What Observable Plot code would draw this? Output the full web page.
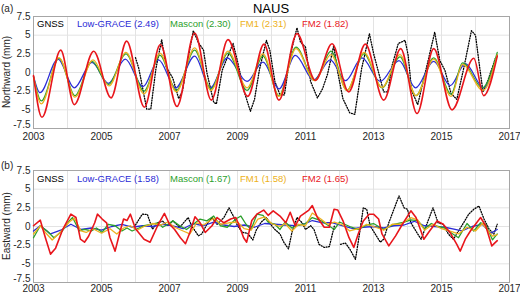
<!DOCTYPE html>
<html><head><meta charset="utf-8">
<script src="https://cdn.jsdelivr.net/npm/d3@7"></script>
<script src="https://cdn.jsdelivr.net/npm/@observablehq/plot@0.6"></script>
<style>
body{margin:0;background:#fff;font-family:"Liberation Sans",Arial,sans-serif;}
#wrap{position:relative;width:520px;height:296px;overflow:hidden;}
#wrap svg{position:absolute;left:0;}
.t{position:absolute;white-space:nowrap;line-height:1;transform:translateY(-50%);}
</style></head><body>
<div id="wrap"></div>
<script>
// ---- axes ----
const gridYears = [2003,2004,2005,2006,2007,2008,2009,2010,2011,2012,2013,2014,2015,2016,2017];
const xTickYears = [2003,2005,2007,2009,2011,2013,2015,2017];
const yTicks = [-7.5,-5,-2.5,0,2.5,5,7.5];
const yTickLabels = ["-7.5","-5","-2.5","0","2.5","5","7.5"];
const seriesNames = ["GNSS","Low-GRACE","Mascon","FM1","FM2"];
const northRms = ["","(2.49)","(2.30)","(2.31)","(1.82)"];
const eastRms = ["","(1.58)","(1.67)","(1.58)","(1.65)"];

// ---- panel (a) Northward [decimal year, mm] ----
const northGNSS = [[2006.0,2.0],[2006.1,0.5],[2006.33,-4.9],[2006.45,-4.9],[2006.6,0.5],[2006.77,4.4],[2006.9,0.8],[2007.1,-0.8],[2007.27,-3.5],[2007.38,-2.5],[2007.55,2.0],[2007.7,5.6],[2007.85,4.0],[2008.0,3.0],[2008.1,0.0],[2008.3,-4.0],[2008.38,-4.2],[2008.55,0.3],[2008.7,2.0],[2008.87,3.9],[2009.0,1.5],[2009.2,-2.6],[2009.38,-5.2],[2009.5,-3.6],[2009.65,0.5],[2009.85,4.3],[2009.95,3.0],[2010.1,-1.2],[2010.25,-3.0],[2010.38,-3.0],[2010.55,2.3],[2010.75,6.0],[2010.85,4.1],[2011.0,3.4],[2011.15,-1.2],[2011.35,-3.4],[2011.5,-2.2],[2011.65,-0.2],[2011.83,3.6],[2011.95,0.0],[2012.1,-3.5],[2012.3,-5.4],[2012.45,-5.6],[2012.65,0.5],[2012.88,5.2],[2013.0,2.6],[2013.15,0.0],[2013.3,-2.6],[2013.42,-2.6],[2013.55,1.0],[2013.73,3.9],[2013.93,4.3],[2014.02,2.3],[2014.12,-2.4],[2014.3,-4.3],[2014.55,0.5],[2014.8,5.4],[2014.95,1.6],[2015.1,0.3],[2015.28,-2.8],[2015.45,-3.6],[2015.65,0.5],[2015.88,5.6],[2016.0,5.0],[2016.12,0.8],[2016.22,-2.6],[2016.37,-1.0],[2016.6,2.1]];
const northLowGrace = [[2003.0,-0.5],[2003.19,-2.7],[2003.72,1.8],[2004.2,-2.05],[2004.72,1.35],[2005.2,-1.45],[2005.7,1.8],[2006.22,-1.9],[2006.68,1.7],[2007.18,-2.05],[2007.74,2.2],[2008.2,-2.05],[2008.7,1.95],[2009.28,-1.2],[2009.75,1.4],[2010.22,-2.2],[2010.7,2.3],[2011.24,-1.0],[2011.73,1.7],[2012.18,-1.1],[2012.66,1.95],[2013.2,-1.2],[2013.75,1.6],[2014.24,-2.05],[2014.77,1.5],[2015.26,-1.75],[2015.7,1.2],[2016.24,-2.05],[2016.64,2.4]];
const northMascon = [[2003.0,-0.6],[2003.23,-3.8],[2003.75,1.9],[2004.22,-3.1],[2004.72,1.5],[2005.2,-1.6],[2005.72,2.5],[2006.25,-2.5],[2006.72,2.3],[2007.2,-2.4],[2007.74,3.0],[2008.22,-2.2],[2008.72,2.6],[2009.28,-2.4],[2009.75,2.2],[2010.22,-3.1],[2010.72,3.4],[2011.27,-1.05],[2011.75,2.85],[2012.22,-2.4],[2012.72,2.5],[2013.25,-2.05],[2013.78,2.1],[2014.25,-3.1],[2014.77,1.95],[2015.28,-2.9],[2015.62,1.3],[2016.2,-2.05],[2016.64,2.7]];
const northFM1 = [[2003.0,-0.5],[2003.23,-4.2],[2003.75,2.0],[2004.22,-3.3],[2004.75,1.7],[2005.22,-1.8],[2005.72,2.7],[2006.25,-2.85],[2006.72,2.6],[2007.2,-2.6],[2007.74,3.3],[2008.22,-2.4],[2008.72,2.85],[2009.28,-2.05],[2009.75,2.5],[2010.22,-3.2],[2010.72,3.2],[2011.27,-1.1],[2011.75,2.4],[2012.22,-2.4],[2012.72,2.7],[2013.25,-2.0],[2013.78,2.4],[2014.25,-3.1],[2014.77,1.8],[2015.28,-3.2],[2015.62,1.1],[2016.22,-2.4],[2016.64,2.4]];
const northFM2 = [[2003.0,-0.4],[2003.25,-6.0],[2003.8,3.0],[2004.2,-4.3],[2004.77,2.85],[2005.28,-3.4],[2005.74,4.2],[2006.26,-4.65],[2006.73,3.75],[2007.22,-4.55],[2007.74,5.3],[2008.23,-3.7],[2008.72,4.4],[2009.3,-3.2],[2009.78,3.8],[2010.22,-3.7],[2010.75,5.2],[2011.29,-1.05],[2011.78,3.85],[2012.27,-2.6],[2012.76,3.8],[2013.3,-3.7],[2013.8,3.2],[2014.28,-5.5],[2014.77,3.2],[2015.31,-5.0],[2015.95,1.9],[2016.24,-3.1],[2016.64,2.2]];

// ---- panel (b) Eastward [decimal year, mm] ----
const eastGNSS = [[2006.0,0.2],[2006.2,1.65],[2006.35,1.6],[2006.5,-0.35],[2006.65,0.5],[2006.8,0.7],[2006.95,0.1],[2007.1,0.75],[2007.3,-0.1],[2007.55,1.2],[2007.65,0.1],[2007.85,-1.25],[2007.95,-1.0],[2008.1,0.3],[2008.25,1.2],[2008.4,0.3],[2008.6,1.2],[2008.75,2.5],[2008.9,1.2],[2009.0,0.1],[2009.15,-0.8],[2009.3,-0.9],[2009.45,-1.8],[2009.55,-0.5],[2009.7,0.6],[2009.85,1.2],[2009.97,0.3],[2010.1,-0.4],[2010.25,-1.0],[2010.36,-2.1],[2010.5,-3.0],[2010.6,-0.8],[2010.75,1.2],[2010.9,0.5],[2011.0,-0.4],[2011.15,0.1],[2011.25,-0.4],[2011.4,-2.4],[2011.55,-2.8],[2011.7,-2.7],[2011.85,0.1],[2011.95,NaN],[2012.03,-2.4],[2012.17,-2.2],[2012.3,-3.0],[2012.47,-4.4],[2012.57,-1.5],[2012.7,2.5],[2012.8,2.3],[2012.9,0.1],[2013.05,-1.0],[2013.2,-2.1],[2013.3,-1.7],[2013.45,0.5],[2013.6,2.3],[2013.75,4.1],[2013.9,2.5],[2014.0,2.3],[2014.1,0.5],[2014.3,-1.0],[2014.4,-1.7],[2014.55,0.1],[2014.75,2.5],[2014.9,0.5],[2015.05,0.3],[2015.2,-1.0],[2015.35,-1.7],[2015.5,-0.6],[2015.65,0.5],[2015.8,1.65],[2015.95,2.3],[2016.1,2.75],[2016.25,1.0],[2016.4,-0.35],[2016.54,-1.0],[2016.64,0.3]];
const eastLowGrace = [[2003.0,-0.6],[2003.2,0.1],[2003.5,-1.0],[2003.8,-0.5],[2004.1,0.3],[2004.4,-0.4],[2004.7,-0.2],[2005.0,-0.5],[2005.3,0.0],[2005.6,0.3],[2005.9,-0.1],[2006.2,0.1],[2006.5,0.0],[2006.8,0.3],[2007.1,0.1],[2007.4,-0.3],[2007.7,0.4],[2008.0,0.1],[2008.3,0.6],[2008.6,0.2],[2008.9,0.0],[2009.2,0.2],[2009.5,-0.1],[2009.8,0.4],[2010.1,0.3],[2010.4,0.2],[2010.7,0.1],[2011.0,0.4],[2011.2,0.8],[2011.5,0.5],[2011.8,0.5],[2012.1,0.1],[2012.4,-0.3],[2012.7,-0.1],[2013.0,0.0],[2013.3,-0.2],[2013.6,0.1],[2013.9,0.2],[2014.2,0.7],[2014.5,0.1],[2014.8,0.0],[2015.1,-0.1],[2015.4,-0.4],[2015.6,-0.6],[2015.9,0.0],[2016.2,0.3],[2016.45,-0.9],[2016.64,-0.4]];
const eastMascon = [[2003.0,-1.5],[2003.2,0.1],[2003.4,-0.6],[2003.6,-1.5],[2003.85,-0.6],[2004.05,0.75],[2004.15,1.2],[2004.35,-0.6],[2004.5,-0.4],[2004.7,-0.6],[2004.85,-0.2],[2005.02,-0.8],[2005.2,0.3],[2005.4,0.1],[2005.6,-0.6],[2005.75,-0.2],[2005.9,-0.6],[2006.1,-0.2],[2006.25,0.1],[2006.45,0.3],[2006.65,0.5],[2006.8,-0.1],[2006.95,0.3],[2007.1,0.75],[2007.3,0.1],[2007.5,-0.4],[2007.7,0.3],[2007.9,1.0],[2008.1,0.75],[2008.3,1.4],[2008.5,0.1],[2008.7,-0.1],[2008.95,1.0],[2009.1,1.4],[2009.25,0.3],[2009.4,-0.4],[2009.57,1.65],[2009.75,1.5],[2009.9,0.6],[2010.1,0.3],[2010.25,-0.4],[2010.4,0.6],[2010.6,-0.2],[2010.8,0.2],[2011.0,0.4],[2011.2,1.2],[2011.45,0.8],[2011.65,0.2],[2011.85,-0.4],[2012.0,0.6],[2012.3,0.0],[2012.55,-0.4],[2012.8,0.2],[2013.0,0.4],[2013.3,-0.4],[2013.6,0.3],[2013.9,0.6],[2014.1,0.9],[2014.3,0.8],[2014.5,-0.3],[2014.7,0.4],[2014.9,0.0],[2015.1,-0.2],[2015.3,-0.9],[2015.5,-1.5],[2015.75,0.4],[2015.95,-0.6],[2016.15,0.5],[2016.3,0.3],[2016.5,-1.8],[2016.64,-1.0]];
const eastFM1 = [[2003.0,-1.0],[2003.2,0.1],[2003.35,-0.8],[2003.55,-1.8],[2003.8,-0.7],[2004.05,0.6],[2004.2,1.1],[2004.4,-0.6],[2004.55,-0.8],[2004.75,-0.3],[2005.0,-0.9],[2005.25,-0.3],[2005.45,-1.0],[2005.65,-0.2],[2005.85,0.1],[2006.05,-0.5],[2006.25,0.0],[2006.5,0.4],[2006.75,0.2],[2006.95,0.6],[2007.15,-0.1],[2007.4,-0.6],[2007.6,-1.0],[2007.8,0.5],[2008.0,0.2],[2008.3,1.1],[2008.5,0.3],[2008.75,0.5],[2009.0,0.6],[2009.2,-0.3],[2009.4,-0.5],[2009.6,1.0],[2009.8,1.3],[2010.0,0.4],[2010.25,0.0],[2010.4,0.4],[2010.6,-0.6],[2010.8,0.3],[2011.0,0.1],[2011.2,1.8],[2011.45,1.0],[2011.65,0.3],[2011.85,0.6],[2012.1,0.2],[2012.3,-0.6],[2012.55,-0.3],[2012.8,0.3],[2013.0,0.0],[2013.3,-0.5],[2013.55,0.3],[2013.8,0.3],[2014.1,1.2],[2014.3,0.9],[2014.5,-0.5],[2014.75,0.3],[2015.0,-0.3],[2015.3,-0.7],[2015.5,-1.0],[2015.75,-0.1],[2016.0,-0.6],[2016.2,0.4],[2016.5,-1.3],[2016.64,-1.1]];
const eastFM2 = [[2003.0,0.1],[2003.2,0.85],[2003.35,-1.5],[2003.5,-3.7],[2003.65,-2.9],[2003.85,-0.5],[2004.1,1.65],[2004.25,1.2],[2004.38,-1.7],[2004.5,-2.1],[2004.62,-1.3],[2004.8,0.5],[2004.88,1.65],[2005.02,1.0],[2005.15,0.5],[2005.25,-1.5],[2005.4,-3.3],[2005.55,-0.6],[2005.65,1.0],[2005.75,0.8],[2005.85,1.65],[2006.0,-0.3],[2006.25,-1.7],[2006.43,-2.1],[2006.65,0.1],[2006.85,1.75],[2007.0,0.3],[2007.15,-0.4],[2007.32,-1.5],[2007.47,-2.3],[2007.6,-0.8],[2007.75,1.3],[2007.9,0.5],[2008.05,-0.8],[2008.25,0.1],[2008.4,1.2],[2008.6,0.5],[2008.8,1.0],[2008.95,1.2],[2009.05,0.1],[2009.18,-1.5],[2009.27,-2.1],[2009.42,0.8],[2009.57,1.65],[2009.77,2.2],[2009.9,1.5],[2010.05,2.1],[2010.25,1.4],[2010.42,0.5],[2010.55,1.9],[2010.7,0.1],[2010.85,1.4],[2011.1,2.2],[2011.2,2.8],[2011.35,1.2],[2011.55,-0.1],[2011.7,-0.1],[2011.84,2.3],[2011.95,2.2],[2012.1,0.8],[2012.28,-1.5],[2012.42,-2.8],[2012.55,-1.0],[2012.7,0.75],[2012.87,1.65],[2013.0,1.65],[2013.15,1.0],[2013.25,-1.0],[2013.45,-2.6],[2013.65,-1.25],[2013.85,0.3],[2014.1,2.1],[2014.25,1.2],[2014.38,-0.4],[2014.48,-1.7],[2014.65,-0.6],[2014.87,0.75],[2015.05,0.3],[2015.25,-0.8],[2015.45,-2.4],[2015.55,-3.3],[2015.7,-1.7],[2015.85,-0.6],[2016.0,0.3],[2016.15,1.2],[2016.3,0.1],[2016.48,-2.6],[2016.57,-2.2],[2016.64,-1.9]];

const colors = ["#000000","#2b2bd6","#2ca02c","#edb120","#e8161c"];

function toRows(arr){ return arr.map(d => ({t: d[0], v: d[1]})); }
const yFmt = d => yTickLabels[yTicks.indexOf(d)];

function panel(series, top, mt, mb, smooth, xPad){
  const marks = [
    Plot.gridX(gridYears, {stroke:"#e3e3e3", strokeOpacity:1}),
    Plot.gridY(yTicks, {stroke:"#e3e3e3", strokeOpacity:1}),
    Plot.frame({stroke:"#a6a6a6"}),
    Plot.axisX({ticks:xTickYears, tickFormat:d=>String(d), tickSize:0, tickPadding:xPad, label:null}),
    Plot.axisY({ticks:yTicks.slice(1), tickFormat:yFmt, tickSize:0, tickPadding:3, label:null}),
    Plot.axisY({ticks:[yTicks[0]], tickFormat:yFmt, tickSize:0, tickPadding:3, label:null, dy:-4})
  ];
  series.forEach((s, i) => {
    const isG = i === 0;
    marks.push(Plot.line(toRows(s), {
      x:"t", y:"v", stroke: colors[i],
      strokeWidth: isG ? 1.3 : (i === 4 ? 1.6 : 1.3),
      strokeDasharray: isG ? "1,1.6" : null,
      curve: (smooth && !isG) ? "monotone-x" : "linear"
    }));
  });
  const p = Plot.plot({
    width:520, height:148, marginTop:mt, marginBottom:mb, marginLeft:33, marginRight:11,
    style:{fontFamily:"'Liberation Sans',Arial,sans-serif", fontSize:"10px", color:"#262626", background:"transparent", overflow:"visible"},
    x:{domain:[2003,2017]},
    y:{domain:[-7.5,7.5]},
    marks
  });
  p.style.top = top + "px";
  return p;
}

const wrap = document.getElementById("wrap");
wrap.appendChild(panel([northGNSS,northLowGrace,northMascon,northFM1,northFM2], 0, 16, 20, true, 4));
wrap.appendChild(panel([eastGNSS,eastLowGrace,eastMascon,eastFM1,eastFM2], 148, 22, 14, false, 2));

function addText(txt, left, top, size, color, extra){
  const s = document.createElement("div");
  s.className = "t"; s.textContent = txt;
  s.style.left = left + "px"; s.style.top = top + "px";
  s.style.fontSize = size + "px"; s.style.color = color;
  if (extra) Object.assign(s.style, extra);
  wrap.appendChild(s);
  return s;
}
// titles & panel labels
addText("NAUS", 271, 8, 13, "#000", {transform:"translate(-50%,-50%)"});
addText("(a)", 1, 9, 10, "#262626");
addText("(b)", 1, 166, 10, "#262626");
addText("Northward (mm)", 7, 72, 10, "#262626", {transform:"translate(-50%,-50%) rotate(-90deg)"});
addText("Eastward (mm)", 7, 226, 10, "#262626", {transform:"translate(-50%,-50%) rotate(-90deg)"});
// legends
const legX = [37, 77, 170, 240, 302];
seriesNames.forEach((n, i) => {
  addText(n + (northRms[i] ? " " + northRms[i] : ""), legX[i], 23.5, 9.5, colors[i]);
  addText(n + (eastRms[i] ? " " + eastRms[i] : ""), legX[i], 179, 9.5, colors[i]);
});
</script>
</body></html>
